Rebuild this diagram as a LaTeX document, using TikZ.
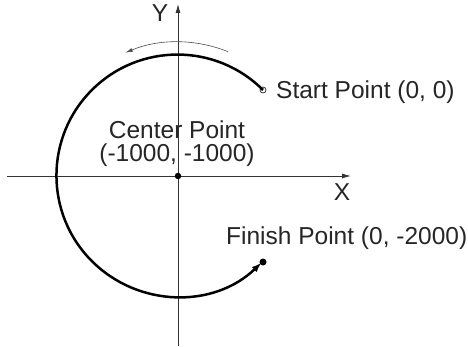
\documentclass[tikz,border=0pt]{standalone}
\usepackage{fontspec}
\setmainfont{Liberation Sans}
\usetikzlibrary{arrows.meta,positioning,calc}

\begin{document}
\begin{tikzpicture}[x=1pt,y=1pt,
  axis/.style={-{Latex[length=9pt,width=5pt]},line width=0.9pt,black!80},
  track/.style={line width=2.5pt,black},
  hint/.style={-{Latex[length=7pt,width=4pt]},line width=0.6pt,black!70},
  dot/.style={circle,fill=black,inner sep=0pt,minimum size=7pt},
  hole/.style={circle,draw=black!80,fill=white,line width=0.8pt,inner sep=0pt,minimum size=6pt},
  txt/.style={font=\fontsize{24.5}{23}\selectfont,text=black!85,inner sep=0pt}
]
\useasboundingbox (0,0) rectangle (468,346);

% axes
\coordinate (xl) at (7,170);
\coordinate (xr) at (351,170);
\coordinate (yb) at (178,0);
\coordinate (yt) at (178,342);
\draw[axis] (xl) -- (xr);
\draw[axis] (yb) -- (yt);
\node[txt] (xlab) at (342,154) {X};
\node[txt] (ylab) at (160,333) {Y};

% center, start and finish points
\node[dot,minimum size=6.5pt] (ctr) at (178,170) {};
\node[hole] (start) at (263,256) {};
\node[dot] (finish) at (263,84) {};

% circular path, counterclockwise from start to finish
\draw[track,-{Latex[length=10pt,width=7pt]}] (start.center)
  arc[start angle=45,end angle=314,radius=121];

% direction of travel
\draw[hint] ([shift={(68:134)}]ctr.center) arc[start angle=68,end angle=113,radius=134];

% labels
\node[txt,anchor=west] (startlab) at (276,254) {Start Point (0, 0)};
\node[txt,anchor=west] (finishlab) at (226,108) {Finish Point (0, -2000)};
\node[txt,align=center] (ctrlab) at (177,202) {Center Point\\(-1000, -1000)};
\end{tikzpicture}
\end{document}
